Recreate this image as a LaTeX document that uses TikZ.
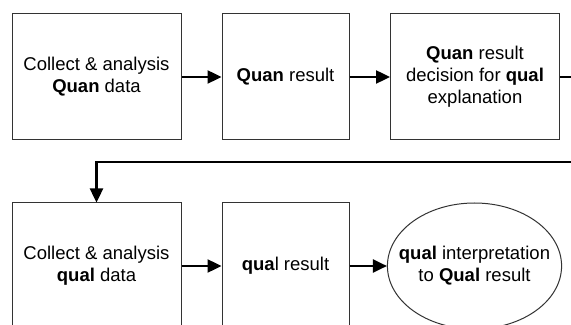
\documentclass[tikz,border=0pt]{standalone}
\usepackage{fontspec}
\setmainfont{Liberation Sans}
\usetikzlibrary{arrows.meta,shapes.geometric}
\tikzset{
  stepbox/.style={draw=black!80, line width=0.5pt, align=center, inner sep=0pt,
    font=\fontsize{9.25}{10.9}\selectfont},
  flow/.style={line width=1.2pt, -{Triangle[length=7pt,width=6.5pt]}}
}

\begin{document}
\begin{tikzpicture}[x=0.5pt,y=-0.5pt]
\clip (0,0) rectangle (571,325);
\fill[white] (0,0) rectangle (571,325);
% top row
\node[stepbox, minimum width=84.5pt, minimum height=63pt] (quandata) at (96.5,77) {Collect \& analysis\\\textbf{Quan} data};
\node[stepbox, minimum width=63.5pt, minimum height=63pt] (quanres) at (285.5,77) {\textbf{Quan} result};
\node[stepbox, minimum width=84.5pt, minimum height=63pt] (decision) at (475,77) {\textbf{Quan} result\\decision for \textbf{qual}\\explanation};
% bottom row
\node[stepbox, minimum width=84.5pt, minimum height=63pt] (qualdata) at (96.5,266) {Collect \& analysis\\\textbf{qual} data};
\node[stepbox, minimum width=63.5pt, minimum height=63pt] (qualres) at (285.5,266) {\textbf{qua}l result};
\node[stepbox, ellipse, inner xsep=-7pt, minimum width=84.5pt, minimum height=63pt] (interp) at (474.5,266) {\textbf{qual} interpretation\\to \textbf{Qual} result};
\coordinate (turn) at (585,77);
\coordinate (back) at (585,162);
\draw[flow] (quandata) -- (quanres);
\draw[flow] (quanres) -- (decision);
\draw[flow] (decision.east) -- (turn) |- (back) -| (qualdata.north);
\draw[flow] (qualdata) -- (qualres);
\draw[flow] (qualres) -- (interp);
\end{tikzpicture}
\end{document}
